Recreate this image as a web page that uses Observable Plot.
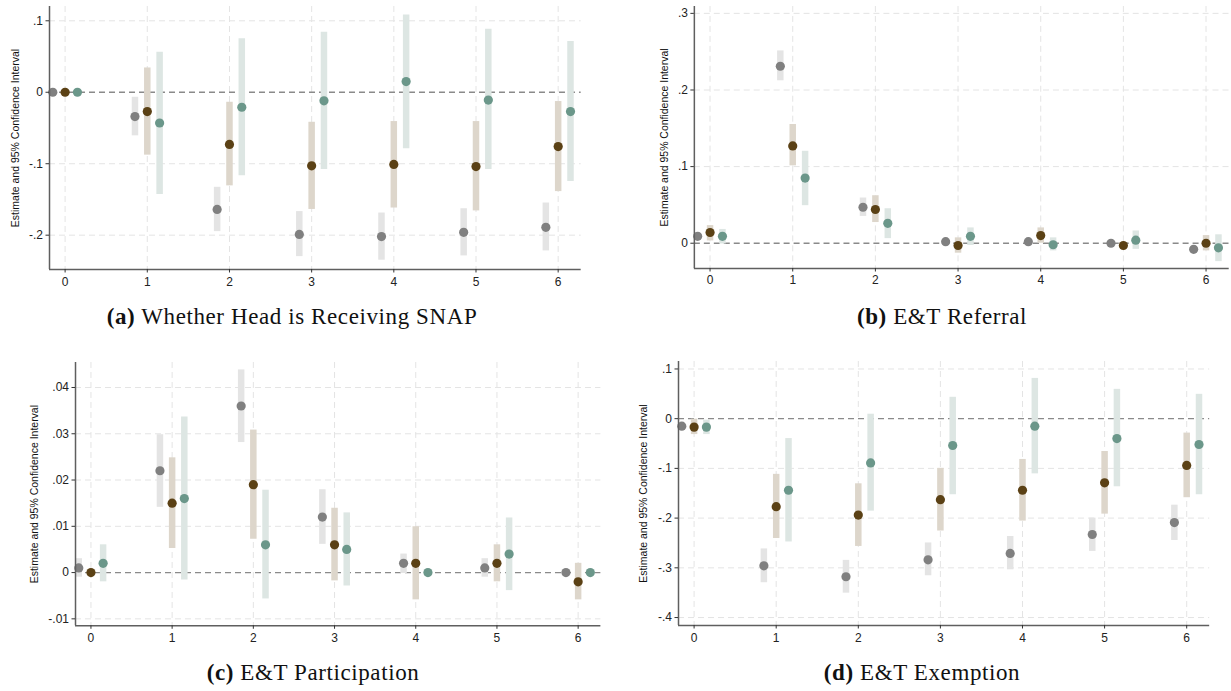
<!DOCTYPE html>
<html>
<head>
<meta charset="utf-8">
<script src="https://cdn.jsdelivr.net/npm/d3@7"></script>
<script src="https://cdn.jsdelivr.net/npm/@observablehq/plot@0.6"></script>
<style>
  html, body { margin: 0; padding: 0; background: #fff; width: 1231px; height: 691px; overflow: hidden; }
  .panel { position: absolute; }
  .panel svg { overflow: visible; }
  .cap { position: absolute; font-family: "Liberation Serif", "Times New Roman", serif; font-size: 23px; letter-spacing: 0.6px; color: #111; white-space: nowrap; transform: translate(-50%, -50%); }
  .cap b { font-weight: bold; }
</style>
</head>
<body>
<div id="root"></div>
<script>
// ---------- shared categories ----------
const periods = [0, 1, 2, 3, 4, 5, 6];
const seriesNames = ["s1", "s2", "s3"];
const seriesOffsets = [-0.15, 0, 0.15];
const dotColors = ["#808080", "#5b4115", "#6b978a"];
const barColors = ["#e4e4e4", "#ddd6cb", "#dde6e3"];
const yTitle = "Estimate and 95% Confidence Interval";

// ---------- (a) Whether Head is Receiving SNAP ----------
const aCaption = ["(a)", "Whether Head is Receiving SNAP"];
const aYTicks = [-0.2, -0.1, 0, 0.1];
const aGrayEst = [0, -0.034, -0.164, -0.199, -0.202, -0.196, -0.189];
const aGrayLo  = [0, -0.061, -0.195, -0.230, -0.235, -0.229, -0.222];
const aGrayHi  = [0, -0.007, -0.133, -0.167, -0.169, -0.163, -0.155];
const aBrownEst = [0, -0.027, -0.073, -0.103, -0.101, -0.104, -0.076];
const aBrownLo  = [0, -0.088, -0.131, -0.164, -0.162, -0.166, -0.139];
const aBrownHi  = [0, 0.034, -0.014, -0.042, -0.041, -0.041, -0.013];
const aTealEst = [0, -0.043, -0.021, -0.012, 0.015, -0.011, -0.027];
const aTealLo  = [0, -0.143, -0.117, -0.108, -0.079, -0.108, -0.125];
const aTealHi  = [0, 0.056, 0.075, 0.084, 0.108, 0.088, 0.071];

// ---------- (b) E&T Referral ----------
const bCaption = ["(b)", "E&T Referral"];
const bYTicks = [0, 0.1, 0.2, 0.3];
const bGrayEst = [0.009, 0.231, 0.047, 0.002, 0.002, 0.000, -0.008];
const bGrayLo  = [0.007, 0.212, 0.035, 0.000, 0.000, -0.002, -0.010];
const bGrayHi  = [0.011, 0.251, 0.059, 0.004, 0.004, 0.002, -0.006];
const bBrownEst = [0.014, 0.127, 0.044, -0.003, 0.010, -0.003, 0.000];
const bBrownLo  = [0.003, 0.101, 0.027, -0.013, 0.000, -0.005, -0.010];
const bBrownHi  = [0.023, 0.155, 0.062, 0.007, 0.020, -0.001, 0.010];
const bTealEst = [0.009, 0.085, 0.026, 0.009, -0.002, 0.004, -0.006];
const bTealLo  = [-0.001, 0.049, 0.006, -0.003, -0.010, -0.008, -0.024];
const bTealHi  = [0.018, 0.120, 0.045, 0.020, 0.007, 0.016, 0.011];

// ---------- (c) E&T Participation ----------
const cCaption = ["(c)", "E&T Participation"];
const cYTicks = [-0.01, 0, 0.01, 0.02, 0.03, 0.04];
const cGrayEst = [0.001, 0.022, 0.036, 0.012, 0.002, 0.001, 0.000];
const cGrayLo  = [-0.001, 0.0141, 0.0281, 0.0061, -0.0002, -0.001, 0.000];
const cGrayHi  = [0.003, 0.0298, 0.0438, 0.0179, 0.004, 0.003, 0.000];
const cBrownEst = [0, 0.015, 0.019, 0.006, 0.002, 0.002, -0.002];
const cBrownLo  = [0, 0.0052, 0.0072, -0.0018, -0.0059, -0.002, -0.0059];
const cBrownHi  = [0, 0.0248, 0.0308, 0.0139, 0.0099, 0.006, 0.002];
const cTealEst = [0.002, 0.016, 0.006, 0.005, 0, 0.004, 0];
const cTealLo  = [-0.002, -0.0016, -0.0057, -0.0029, 0, -0.0039, 0];
const cTealHi  = [0.006, 0.0336, 0.0178, 0.0129, 0, 0.0118, 0];

// ---------- (d) E&T Exemption ----------
const dCaption = ["(d)", "E&T Exemption"];
const dYTicks = [-0.4, -0.3, -0.2, -0.1, 0, 0.1];
const dGrayEst = [-0.015, -0.296, -0.318, -0.284, -0.271, -0.233, -0.209];
const dGrayLo  = [-0.020, -0.330, -0.351, -0.316, -0.304, -0.267, -0.245];
const dGrayHi  = [-0.010, -0.262, -0.285, -0.250, -0.237, -0.200, -0.174];
const dBrownEst = [-0.017, -0.177, -0.194, -0.163, -0.144, -0.129, -0.094];
const dBrownLo  = [-0.032, -0.241, -0.257, -0.226, -0.206, -0.192, -0.159];
const dBrownHi  = [-0.001, -0.112, -0.131, -0.100, -0.082, -0.066, -0.029];
const dTealEst = [-0.017, -0.144, -0.089, -0.054, -0.015, -0.040, -0.052];
const dTealLo  = [-0.032, -0.248, -0.186, -0.153, -0.111, -0.137, -0.153];
const dTealHi  = [-0.003, -0.040, 0.009, 0.043, 0.081, 0.059, 0.049];

// ---------- build ----------
function stataFmt(v) {
  if (Math.abs(v) < 1e-12) return "0";
  const s = String(+Math.abs(v).toFixed(4)).replace(/^0/, "");
  return (v < 0 ? "-" : "") + s;
}

function rowsFor(est, lo, hi) {
  const rows = [];
  for (let s = 0; s < 3; s++) {
    periods.forEach((p, i) => {
      rows.push({x: p + seriesOffsets[s], est: est[s][i], lo: lo[s][i], hi: hi[s][i], k: s});
    });
  }
  return rows;
}

const panels = [
  {caption: aCaption, yTicks: aYTicks, yDomain: [-0.248, 0.12],
   est: [aGrayEst, aBrownEst, aTealEst], lo: [aGrayLo, aBrownLo, aTealLo], hi: [aGrayHi, aBrownHi, aTealHi],
   frame: {left: 49.3, right: 581, top: 6, bottom: 269}, titleDx: 34, cap: [292, 317]},
  {caption: bCaption, yTicks: bYTicks, yDomain: [-0.033, 0.309],
   est: [bGrayEst, bBrownEst, bTealEst], lo: [bGrayLo, bBrownLo, bTealLo], hi: [bGrayHi, bBrownHi, bTealHi],
   frame: {left: 694.3, right: 1230.5, top: 6, bottom: 268.7}, titleDx: 30, cap: [942, 317]},
  {caption: cCaption, yTicks: cYTicks, yDomain: [-0.0115, 0.0454],
   est: [cGrayEst, cBrownEst, cTealEst], lo: [cGrayLo, cBrownLo, cTealLo], hi: [cGrayHi, cBrownHi, cTealHi],
   frame: {left: 75.3, right: 600.7, top: 361.7, bottom: 625}, titleDx: 41, cap: [313, 673]},
  {caption: dCaption, yTicks: dYTicks, yDomain: [-0.416, 0.115],
   est: [dGrayEst, dBrownEst, dTealEst], lo: [dGrayLo, dBrownLo, dTealLo], hi: [dGrayHi, dBrownHi, dTealHi],
   frame: {left: 677.8, right: 1209, top: 361, bottom: 625}, titleDx: 35, cap: [922, 673]}
];

const root = document.getElementById("root");
const mL = 60, mR = 2, mT = 10, mB = 30;
const xDomain = [-0.19, 6.28];
const tickFont = '"Liberation Sans Narrow", "Arial Narrow", "Liberation Sans", Arial, sans-serif';

for (const P of panels) {
  const f = P.frame;
  const rows = rowsFor(P.est, P.lo, P.hi);
  const w = (f.right - f.left) + mL + mR;
  const h = (f.bottom - f.top) + mT + mB;
  const svg = Plot.plot({
    width: w, height: h,
    marginLeft: mL, marginRight: mR, marginTop: mT, marginBottom: mB,
    style: {fontFamily: tickFont, fontSize: "12px", color: "#222", background: "transparent", overflow: "visible"},
    x: {domain: xDomain, axis: null, label: null},
    y: {domain: P.yDomain, axis: null, label: null},
    marks: [
      Plot.gridX(periods, {stroke: "#e4e4e4", strokeOpacity: 1, strokeDasharray: "6,4"}),
      Plot.gridY(P.yTicks.filter(t => t !== 0), {stroke: "#e4e4e4", strokeOpacity: 1, strokeDasharray: "6,4"}),
      Plot.ruleY([0], {stroke: "#8a8a8a", strokeWidth: 1.3, strokeDasharray: "6,4"}),
      Plot.ruleX(rows, {x: "x", y1: "lo", y2: "hi", strokeWidth: 6.5,
        stroke: d => barColors[d.k]}),
      Plot.dot(rows, {x: "x", y: "est", r: 4.6, fill: d => dotColors[d.k], stroke: null}),
      Plot.ruleX([xDomain[0]], {stroke: "#5f5f5f", strokeWidth: 1.5}),
      Plot.ruleY([P.yDomain[0]], {stroke: "#5f5f5f", strokeWidth: 1.5}),
      Plot.axisX(periods, {tickSize: 3.5, tickPadding: 4, fontSize: 12, stroke: "#333", label: null, tickFormat: d => String(d)}),
      Plot.axisY(P.yTicks, {tickSize: 3.5, tickPadding: 3, fontSize: 12, stroke: "#333", label: null, tickFormat: stataFmt}),
      Plot.text([yTitle], {frameAnchor: "left", rotate: -90, dx: -P.titleDx, textAnchor: "middle",
        lineAnchor: "middle", fontSize: 10.5, fill: "#111"})
    ]
  });
  const div = document.createElement("div");
  div.className = "panel";
  div.style.left = (f.left - mL) + "px";
  div.style.top = (f.top - mT) + "px";
  div.appendChild(svg);
  root.appendChild(div);

  const cap = document.createElement("div");
  cap.className = "cap";
  cap.style.left = P.cap[0] + "px";
  cap.style.top = P.cap[1] + "px";
  const b = document.createElement("b");
  b.textContent = P.caption[0];
  cap.appendChild(b);
  cap.appendChild(document.createTextNode(" " + P.caption[1]));
  root.appendChild(cap);
}
</script>
</body>
</html>
